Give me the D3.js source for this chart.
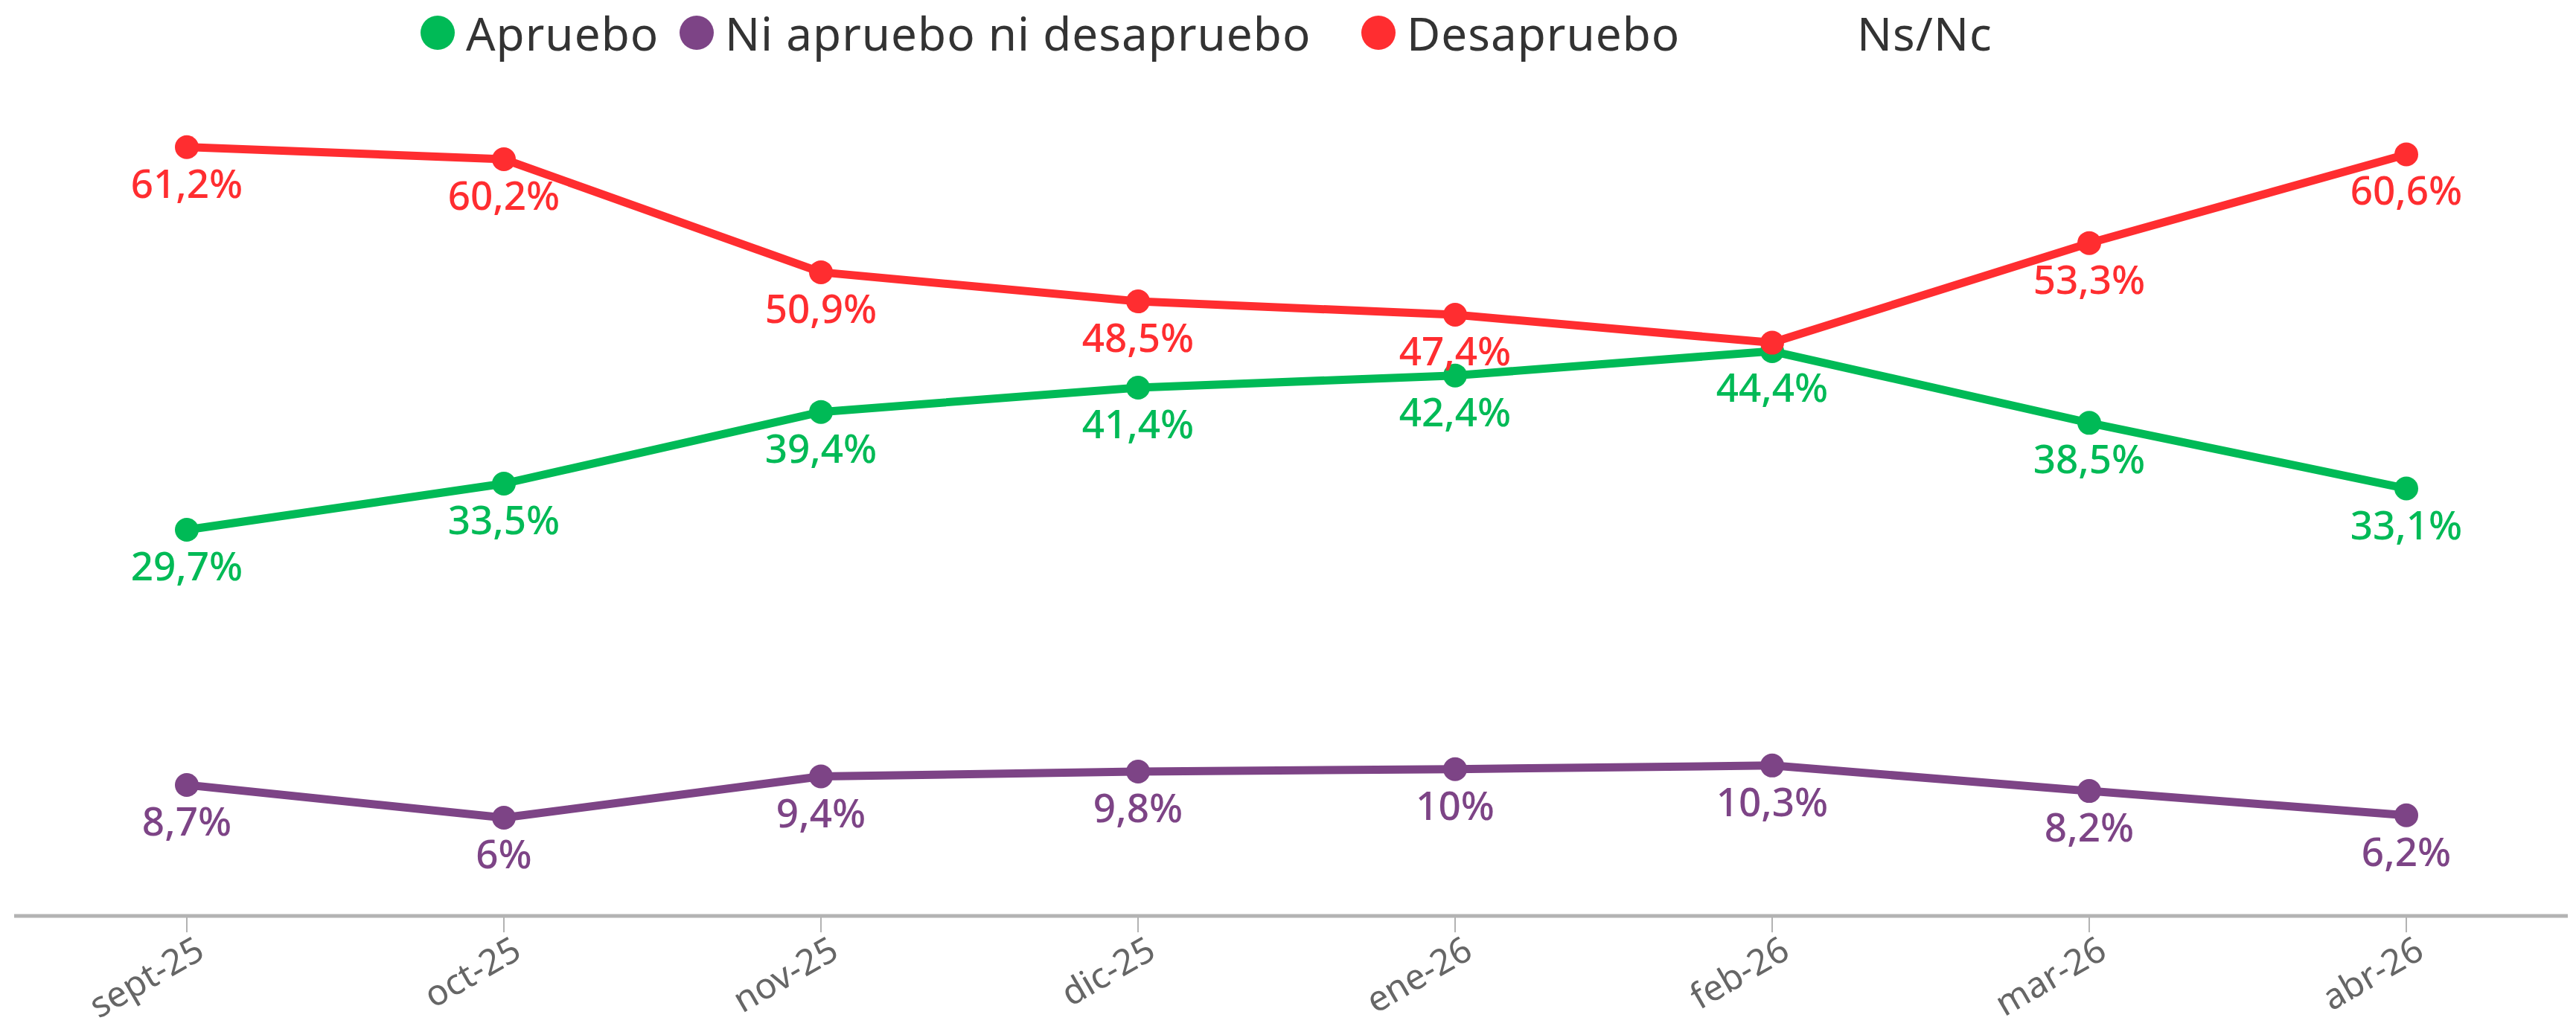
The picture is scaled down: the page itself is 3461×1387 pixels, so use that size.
<!DOCTYPE html>
<html>
<head>
<meta charset="utf-8">
<script src="https://cdn.jsdelivr.net/npm/d3@7"></script>
<style>
  body { margin: 0; background: #fff; }
  svg { display: block; font-family: "Noto Sans", sans-serif; }
</style>
</head>
<body>
<div id="chart"></div>
<script>
// data ---------------------------------------------------------------
var months = ["sept-25", "oct-25", "nov-25", "dic-25", "ene-26", "feb-26", "mar-26", "abr-26"];

var apruebo    = [29.7, 33.5, 39.4, 41.4, 42.4, 44.4, 38.5, 33.1];
var ni         = [8.7, 6, 9.4, 9.8, 10, 10.3, 8.2, 6.2];
var desapruebo = [61.2, 60.2, 50.9, 48.5, 47.4, 45.1, 53.3, 60.6];

var seriesNames  = ["Apruebo", "Ni apruebo ni desapruebo", "Desapruebo", "Ns/Nc"];
var seriesColors = ["#00ba56", "#7d4486", "#ff2d30", "none"];
// label at feb-26 for Desapruebo is hidden in the original (overlaps)
var hiddenLabels = [[], [], [5], []];

var series = [
  { name: seriesNames[0], color: seriesColors[0], values: apruebo,    hide: hiddenLabels[0] },
  { name: seriesNames[1], color: seriesColors[1], values: ni,         hide: hiddenLabels[1] },
  { name: seriesNames[2], color: seriesColors[2], values: desapruebo, hide: hiddenLabels[2] }
];

// layout -------------------------------------------------------------
var width = 3461, height = 1387;
var axisY = 1231;

var svg = d3.select("#chart").append("svg")
    .attr("width", width)
    .attr("height", height);

var x = d3.scalePoint()
    .domain(months)
    .range([251, 3233]);

var y = d3.scaleLinear()
    .domain([0, 70])
    .range([1197, 54]);

var fmt = function(v) { return String(v).replace(".", ",") + "%"; };

// legend -------------------------------------------------------------
var legendX = [588, 936, 1852, 2457]; // dot centres
var legend = svg.append("g").attr("class", "legend")
  .selectAll("g")
  .data(seriesNames)
  .enter().append("g")
    .attr("transform", function(d, i) { return "translate(" + legendX[i] + ",0)"; });

legend.append("circle")
    .attr("cx", 0)
    .attr("cy", 44)
    .attr("r", 23)
    .attr("fill", function(d, i) { return seriesColors[i]; });

legend.append("text")
    .attr("x", 38)
    .attr("y", 68)
    .attr("fill", "#333")
    .style("font-size", "62px")
    .style("letter-spacing", "1px")
    .text(function(d) { return d; });

// x axis -------------------------------------------------------------
var xAxis = svg.append("g")
    .attr("transform", "translate(0," + axisY + ")");

xAxis.append("line")
    .attr("x1", 19)
    .attr("x2", 3450)
    .attr("stroke", "#b3b3b3")
    .attr("stroke-width", 5);

var ticks = xAxis.selectAll(".tick")
    .data(months)
  .enter().append("g")
    .attr("class", "tick")
    .attr("transform", function(d) { return "translate(" + x(d) + ",0)"; });

ticks.append("line")
    .attr("y1", 2)
    .attr("y2", 22)
    .attr("stroke", "#b3b3b3")
    .attr("stroke-width", 2);

ticks.append("text")
    .attr("transform", "translate(12,30) rotate(-30)")
    .attr("text-anchor", "end")
    .attr("dy", "0.6em")
    .attr("fill", "#666")
    .style("font-size", "48px")
    .text(function(d) { return d; });

// lines --------------------------------------------------------------
var line = d3.line()
    .x(function(d, i) { return x(months[i]); })
    .y(function(d) { return y(d); });

var groups = svg.selectAll(".series")
    .data(series)
  .enter().append("g")
    .attr("class", "series");

groups.append("path")
    .attr("d", function(s) { return line(s.values); })
    .attr("fill", "none")
    .attr("stroke", function(s) { return s.color; })
    .attr("stroke-width", 11)
    .attr("stroke-linejoin", "round");

groups.selectAll("circle")
    .data(function(s) { return s.values.map(function(v, i) { return { v: v, i: i, s: s }; }); })
  .enter().append("circle")
    .attr("cx", function(d) { return x(months[d.i]); })
    .attr("cy", function(d) { return y(d.v); })
    .attr("r", 16)
    .attr("fill", function(d) { return d.s.color; });

groups.selectAll("text")
    .data(function(s) {
      return s.values
        .map(function(v, i) { return { v: v, i: i, s: s }; })
        .filter(function(d) { return s.hide.indexOf(d.i) < 0; });
    })
  .enter().append("text")
    .attr("x", function(d) { return x(months[d.i]); })
    .attr("y", function(d) { return y(d.v) + 68; })
    .attr("text-anchor", "middle")
    .attr("fill", function(d) { return d.s.color; })
    .style("font-size", "53px")
    .style("font-weight", 500)
    .text(function(d) { return fmt(d.v); });
</script>
</body>
</html>
